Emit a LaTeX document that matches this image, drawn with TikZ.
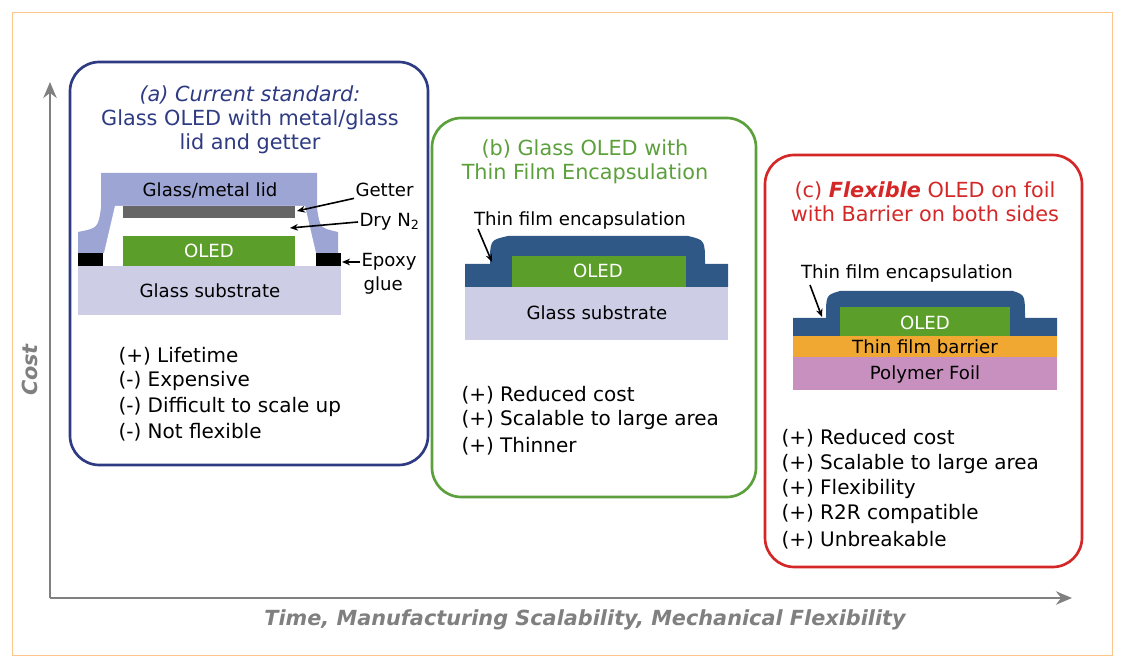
\documentclass[tikz,border=0pt]{standalone}
\usepackage{fontspec}
\setmainfont{DejaVu Sans}
\usetikzlibrary{arrows.meta}
\definecolor{navyA}{RGB}{46,58,130}
\definecolor{greenB}{RGB}{92,160,60}
\definecolor{redC}{RGB}{212,40,40}
\definecolor{lidC}{RGB}{157,165,212}
\definecolor{subC}{RGB}{205,206,230}
\definecolor{oledC}{RGB}{92,158,42}
\definecolor{tfeC}{RGB}{48,88,134}
\definecolor{barC}{RGB}{240,168,50}
\definecolor{foilC}{RGB}{200,144,190}
\definecolor{axisC}{RGB}{128,128,128}
\tikzset{every picture/.style={line width=0.75pt}}
\tikzset{
  panel/.style={rounded corners=22pt, line width=2pt},
  lbl/.style={inner sep=0.75pt, font=\fontsize{13.6}{15}\selectfont},
  item/.style={inner sep=0.75pt, anchor=west, font=\fontsize{15}{17}\selectfont},
  ttl/.style={inner sep=0.75pt, font=\fontsize{15.6}{17}\selectfont, align=center},
  ptr/.style={-{Stealth[length=6pt,width=5pt]}, line width=1.2pt},
}
\begin{document}
\begin{tikzpicture}[x=0.75pt,y=0.75pt,yscale=-1,xscale=1]
\useasboundingbox (0,0) rectangle (1122,670);
%frame
\draw [color=orange!45, line width=0.6pt] (12,12) rectangle (1112,655);

%Axes
\coordinate (orig) at (50,598);
\coordinate (ytop) at (50,82);
\coordinate (xend) at (1072,598);
\draw [axisC, line width=2.2pt, -{Stealth[length=12pt,width=10pt]}] (orig) -- (ytop);
\draw [axisC, line width=2.2pt, -{Stealth[length=12pt,width=10pt]}] (orig) -- (xend);
\node (ylab) [axisC, rotate=90, font=\fontsize{15.6}{17}\selectfont\bfseries\itshape] at (30,370) {Cost};
\node (xlab) [axisC, font=\fontsize{15.6}{17}\selectfont\bfseries\itshape] at (585,620) {Time, Manufacturing Scalability, Mechanical Flexibility};

%Panel (a)
\draw [panel, navyA] (70,62) rectangle (428,465);
\node (ta) [ttl, navyA] at (250,120) {\itshape (a) Current standard:\\[1pt] Glass OLED with metal/glass\\[1pt] lid and getter};
%Shape: lid
\draw [draw=none, fill=lidC] (101,173) -- (317,173) -- (317,208) .. controls (320,228) .. (338,232) -- (338,253) -- (78,253) -- (78,232) .. controls (98,228) .. (101,208) -- cycle ;
\draw [draw=none, fill=white] (115,206) -- (305,206) .. controls (310,230) .. (316,253) -- (104,253) .. controls (110,230) .. (115,206) -- cycle ;
%Shape: getter
\draw [draw=none, fill=gray!80!black] (123,206) rectangle (295,218);
%Shape: OLED, epoxy, substrate
\draw [draw=none, fill=oledC] (123,236) rectangle (295,266);
\draw [draw=none, fill=black] (78,253) rectangle (103,266);
\draw [draw=none, fill=black] (316,253) rectangle (341,266);
\draw [draw=none, fill=subC] (78,266) rectangle (341,315);
\node (lid) [lbl] at (210,190) {Glass/metal lid};
\node (oleda) [lbl, white] at (209,251) {OLED};
\node (suba) [lbl] at (210,291) {Glass substrate};
\node (getter) [lbl, anchor=west] at (354,190) {Getter};
\node (dryn) [lbl, anchor=west] at (358,222) {Dry N\textsubscript{2}};
\node (epoxy) [lbl, anchor=west] at (360,262) {Epoxy};
\node (glue) [lbl, anchor=west] at (362,285) {glue};
\coordinate (getterpt) at (297,211);
\coordinate (drynpt) at (290,228);
\coordinate (epoxypt) at (342,262);
\draw [ptr] (getter.south west) -- (getterpt);
\draw [ptr] (dryn.west) -- (drynpt);
\draw [ptr] (epoxy.west) -- (epoxypt);
\node (a1) [item] at (117,356) {(+) Lifetime};
\node (a2) [item] at (117,381) {(-) Expensive};
\node (a3) [item] at (117,407) {(-) Difficult to scale up};
\node (a4) [item] at (117,432) {(-) Not flexible};

%Panel (b)
\draw [panel, greenB] (432,118) rectangle (756,497);
\node (tb) [ttl, greenB] at (585,162) {(b) Glass OLED with\\[1pt] Thin Film Encapsulation};
\draw [draw=none, fill=tfeC] (465,264) -- (490,264) .. controls (490,240) .. (508,236) -- (688,236) .. controls (705,240) .. (705,264) -- (728,264) -- (728,287) -- (465,287) -- cycle ;
\draw [draw=none, fill=oledC] (512,256) rectangle (686,287);
\draw [draw=none, fill=subC] (465,287) rectangle (728,340);
\node (oledb) [lbl, white] at (598,271) {OLED};
\node (subb) [lbl] at (597,313) {Glass substrate};
\node (tfeb) [lbl] at (580,220) {Thin film encapsulation};
\coordinate (tfebpt) at (492,262);
\draw [ptr] (478,229) -- (tfebpt);
\node (b1) [item] at (460,395) {(+) Reduced cost};
\node (b2) [item] at (460,420) {(+) Scalable to large area};
\node (b3) [item] at (460,446) {(+) Thinner};

%Panel (c)
\draw [panel, redC] (765,155) rectangle (1082,567);
\node (tc) [ttl, redC] at (925,202) {(c) \textbf{\itshape Flexible} OLED on foil\\[1pt] with Barrier on both sides};
\draw [draw=none, fill=tfeC] (793,318) -- (826,318) .. controls (826,295) .. (840,291) -- (1013,291) .. controls (1025,295) .. (1025,318) -- (1057,318) -- (1057,336) -- (793,336) -- cycle ;
\draw [draw=none, fill=oledC] (840,307) rectangle (1010,336);
\draw [draw=none, fill=barC] (793,336) rectangle (1057,357);
\draw [draw=none, fill=foilC] (793,357) rectangle (1057,390);
\node (oledc) [lbl, white] at (925,323) {OLED};
\node (barc) [lbl] at (925,347) {Thin film barrier};
\node (foilc) [lbl] at (925,374) {Polymer Foil};
\node (tfec) [lbl] at (907,273) {Thin film encapsulation};
\coordinate (tfecpt) at (822,317);
\draw [ptr] (810,285) -- (tfecpt);
\node (c1) [item] at (780,438) {(+) Reduced cost};
\node (c2) [item] at (780,464) {(+) Scalable to large area};
\node (c3) [item] at (780,489) {(+) Flexibility};
\node (c4) [item] at (780,514) {(+) R2R compatible};
\node (c5) [item] at (780,540) {(+) Unbreakable};

\end{tikzpicture}
\end{document}
